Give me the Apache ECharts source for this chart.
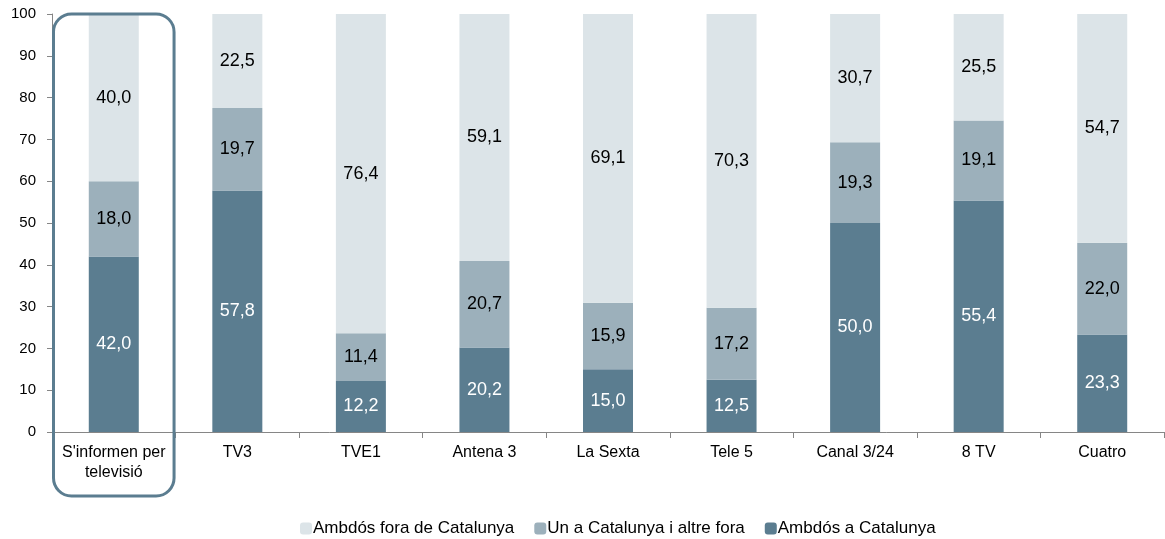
<!DOCTYPE html>
<html><head><meta charset="utf-8">
<script src="https://cdn.jsdelivr.net/npm/echarts@6/dist/echarts.min.js"></script>
<style>html,body{margin:0;padding:0;background:#fff}#c{width:1165px;height:539px}</style>
</head><body><div id="c"></div>
<script>
var categories = ["S'informen per\ntelevisió","TV3","TVE1","Antena 3","La Sexta","Tele 5","Canal 3/24","8 TV","Cuatro"];
var ambdosCat = [42.0,57.8,12.2,20.2,15.0,12.5,50.0,55.4,23.3];
var unCat = [18.0,19.7,11.4,20.7,15.9,17.2,19.3,19.1,22.0];
var ambdosFora = [40.0,22.5,76.4,59.1,69.1,70.3,30.7,25.5,54.7];
var seriesNames = ["Ambdós fora de Catalunya","Un a Catalunya i altre fora","Ambdós a Catalunya"];
var yTicks = [0,10,20,30,40,50,60,70,80,90,100];

var font = "'Liberation Sans', Arial, sans-serif";
function fmt(p){return p.value.toFixed(1).replace('.',',');}
var chart = echarts.init(document.getElementById('c'));
function mk(name,data,color,labelColor){
  return {name:name,type:'bar',stack:'s',data:data,barWidth:50,
    itemStyle:{color:color},
    label:{show:true,position:'inside',formatter:fmt,color:labelColor,fontSize:18,fontFamily:font},
    emphasis:{disabled:true}};
}
chart.setOption({
  animation:false,
  grid:{left:52,right:1,top:14,bottom:107},
  legend:{top:515,left:295,itemWidth:12,itemHeight:12,itemGap:20,
    data:[seriesNames[0],seriesNames[1],seriesNames[2]],
    textStyle:{fontSize:17,fontFamily:font,color:'#000',padding:[0,0,0,-4]}},
  xAxis:{type:'category',data:categories,
    axisLine:{lineStyle:{color:'#868686',width:1}},
    axisTick:{show:true,length:6,lineStyle:{color:'#868686'},alignWithLabel:false},
    axisLabel:{fontSize:16,fontFamily:font,color:'#000',margin:11,lineHeight:20,interval:0}},
  yAxis:{type:'value',min:0,max:100,interval:10,
    axisLine:{show:true,lineStyle:{color:'#868686'}},
    axisTick:{show:true,length:5,lineStyle:{color:'#868686'}},
    splitLine:{show:false},
    axisLabel:{fontSize:15,fontFamily:font,color:'#000',margin:16,
      formatter:function(v){return yTicks.indexOf(v)>=0?String(v):'';}}},
  series:[
    mk(seriesNames[2],ambdosCat,'#5b7d90','#fff'),
    mk(seriesNames[1],unCat,'#9cb0bb','#000'),
    mk(seriesNames[0],ambdosFora,'#dce4e8','#000')
  ]
});
var px0 = chart.convertToPixel({xAxisIndex:0},0);
var px1 = chart.convertToPixel({xAxisIndex:0},1);
var stepW = px1-px0;
var yTop = chart.convertToPixel({yAxisIndex:0},100);
chart.setOption({graphic:[{type:'rect',shape:{x:px0-stepW/2+1.5,y:yTop,width:stepW-3,height:496-yTop,r:18},
  style:{fill:'none',stroke:'#5b7d90',lineWidth:3},z:100}]});
</script></body></html>
